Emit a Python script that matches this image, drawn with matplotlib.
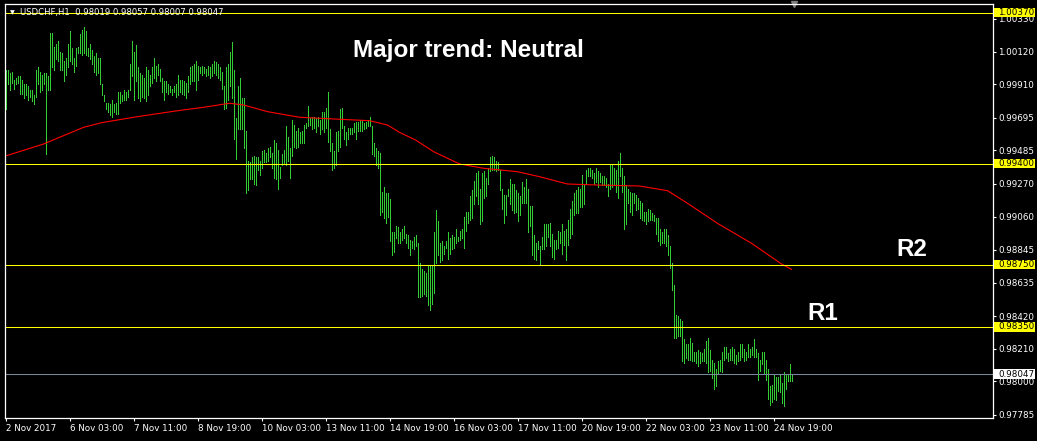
import matplotlib
matplotlib.use("Agg")
import matplotlib.pyplot as plt
from matplotlib.transforms import blended_transform_factory
from matplotlib.patches import Rectangle

# ---------------- data ----------------
symbol_header = "USDCHF,H1  0.98019 0.98057 0.98007 0.98047"
title_text = "Major trend: Neutral"

highs = [
    1.0000, 1.0000, 0.9998, 0.9999, 0.9994, 0.9995, 0.9996, 0.9996, 0.9994, 0.9991,
    0.9991, 0.9990, 0.9987, 0.9987, 0.9984, 1.0000, 1.0002, 0.9999, 0.9997, 0.9998,
    0.9998, 0.9996, 1.0024, 1.0024, 1.0015, 1.0017, 1.0019, 1.0012, 1.0011, 1.0006,
    1.0008, 1.0017, 1.0025, 1.0014, 1.0008, 1.0014, 1.0015, 1.0023, 1.0026, 1.0028,
    1.0025, 1.0014, 1.0017, 1.0013, 1.0009, 1.0011, 1.0008, 1.0008, 0.9991, 0.9984,
    0.9979, 0.9979, 0.9978, 0.9981, 0.9978, 0.9979, 0.9986, 0.9986, 0.9984, 0.9987,
    0.9986, 0.9987, 1.0004, 1.0019, 1.0012, 1.0016, 1.0002, 0.9998, 0.9997, 0.9995,
    1.0002, 1.0000, 0.9997, 1.0002, 1.0008, 1.0003, 1.0004, 1.0001, 0.9995, 0.9993,
    0.9993, 0.9991, 0.9990, 0.9988, 0.9990, 0.9991, 0.9997, 0.9994, 0.9994, 0.9993,
    0.9992, 0.9996, 1.0002, 1.0003, 1.0004, 1.0006, 1.0003, 1.0002, 1.0003, 1.0002,
    1.0001, 1.0003, 1.0002, 1.0004, 1.0006, 1.0005, 1.0004, 1.0002, 0.9999, 0.9990,
    1.0002, 1.0004, 1.0012, 1.0018, 1.0000, 0.9969, 0.9990, 0.9995, 0.9982, 0.9982,
    0.9961, 0.9942, 0.9941, 0.9944, 0.9945, 0.9944, 0.9944, 0.9942, 0.9948, 0.9949,
    0.9947, 0.9950, 0.9951, 0.9947, 0.9955, 0.9953, 0.9949, 0.9938, 0.9946, 0.9949,
    0.9964, 0.9957, 0.9950, 0.9968, 0.9965, 0.9961, 0.9963, 0.9960, 0.9961, 0.9965,
    0.9966, 0.9977, 0.9969, 0.9970, 0.9970, 0.9969, 0.9970, 0.9968, 0.9973, 0.9973,
    0.9976, 0.9986, 0.9962, 0.9953, 0.9948, 0.9960, 0.9961, 0.9975, 0.9976, 0.9964,
    0.9960, 0.9963, 0.9963, 0.9963, 0.9966, 0.9967, 0.9967, 0.9968, 0.9968, 0.9966,
    0.9967, 0.9968, 0.9970, 0.9964, 0.9953, 0.9950, 0.9948, 0.9947, 0.9922, 0.9925,
    0.9921, 0.9921, 0.9917, 0.9896, 0.9896, 0.9900, 0.9899, 0.9896,
    0.9898, 0.9900, 0.9895, 0.9894, 0.9891, 0.9890, 0.9893, 0.9894, 0.9889, 0.9876,
    0.9872, 0.9871, 0.9870, 0.9875, 0.9874, 0.9874, 0.9896, 0.9910, 0.9903, 0.9889,
    0.9890, 0.9887, 0.9890, 0.9896, 0.9892, 0.9894, 0.9893, 0.9898, 0.9893, 0.9897,
    0.9898, 0.9906, 0.9909, 0.9909, 0.9919, 0.9923, 0.9929, 0.9934, 0.9935, 0.9924,
    0.9934, 0.9935, 0.9931, 0.9937, 0.9944, 0.9945, 0.9944, 0.9942, 0.9941, 0.9936,
    0.9924, 0.9920, 0.9920, 0.9924, 0.9930, 0.9927, 0.9927, 0.9923, 0.9921, 0.9919,
    0.9928, 0.9925, 0.9930, 0.9924, 0.9913, 0.9913, 0.9894, 0.9889, 0.9890, 0.9887,
    0.9893, 0.9901, 0.9901, 0.9901, 0.9902, 0.9895, 0.9891, 0.9891, 0.9897, 0.9896,
    0.9901, 0.9897, 0.9898, 0.9904, 0.9911, 0.9916, 0.9921, 0.9923, 0.9925, 0.9924,
    0.9933, 0.9926, 0.9936, 0.9937, 0.9937, 0.9936, 0.9934, 0.9937, 0.9935, 0.9934,
    0.9932, 0.9932, 0.9931, 0.9927, 0.9939, 0.9939, 0.9937, 0.9936, 0.9942, 0.9947,
    0.9937, 0.9932, 0.9926, 0.9924, 0.9922, 0.9921, 0.9921, 0.9920, 0.9918, 0.9916,
    0.9915, 0.9909, 0.9909, 0.9911, 0.9910, 0.9908, 0.9907, 0.9905, 0.9905, 0.9898,
    0.9896, 0.9898, 0.9898, 0.9894, 0.9887, 0.9876, 0.9862, 0.9843, 0.9842, 0.9840,
    0.9839, 0.9827, 0.9824, 0.9824, 0.9828, 0.9825, 0.9819, 0.9819, 0.9820, 0.9819,
    0.9818, 0.9821, 0.9826, 0.9828, 0.9820, 0.9814, 0.9812, 0.9808, 0.9813, 0.9814,
    0.9819, 0.9822, 0.9822, 0.9818, 0.9821, 0.9822, 0.9821, 0.9817, 0.9819, 0.9824,
    0.9824, 0.9821, 0.9819, 0.9824, 0.9821, 0.9822, 0.9827, 0.9821, 0.9818, 0.9814,
    0.9819, 0.9819, 0.9814, 0.9808, 0.9797, 0.9798, 0.9804, 0.9803, 0.9803, 0.9805,
    0.9799, 0.9806, 0.9804, 0.9805, 0.9811, 0.9805,
]

lows = [
    0.9975, 0.9991, 0.9987, 0.9992, 0.9988, 0.9991, 0.9992, 0.9985, 0.9985, 0.9982,
    0.9984, 0.9981, 0.9983, 0.9980, 0.9978, 0.9983, 0.9991, 0.9986, 0.9987, 0.9991,
    0.9946, 0.9987, 0.9987, 1.0002, 1.0000, 1.0007, 1.0006, 1.0000, 1.0000, 0.9993,
    0.9997, 1.0002, 1.0006, 1.0004, 0.9999, 1.0003, 1.0011, 1.0011, 1.0010, 1.0011,
    1.0010, 1.0009, 1.0007, 1.0004, 0.9999, 0.9997, 0.9998, 0.9991, 0.9984, 0.9980,
    0.9975, 0.9973, 0.9971, 0.9970, 0.9973, 0.9972, 0.9972, 0.9979, 0.9980, 0.9981,
    0.9981, 0.9983, 0.9987, 0.9996, 0.9981, 0.9993, 0.9982, 0.9980, 0.9983, 0.9982,
    0.9980, 0.9984, 0.9990, 0.9992, 0.9995, 0.9993, 0.9997, 0.9993, 0.9986, 0.9981,
    0.9986, 0.9985, 0.9986, 0.9984, 0.9986, 0.9983, 0.9984, 0.9986, 0.9985, 0.9984,
    0.9982, 0.9986, 0.9991, 0.9993, 0.9993, 0.9987, 0.9994, 0.9998, 0.9997, 0.9998,
    0.9996, 0.9997, 0.9995, 0.9996, 0.9998, 0.9997, 0.9995, 0.9994, 0.9988, 0.9975,
    0.9976, 0.9981, 0.9990, 0.9982, 0.9956, 0.9943, 0.9962, 0.9962, 0.9962, 0.9950,
    0.9921, 0.9923, 0.9930, 0.9930, 0.9927, 0.9926, 0.9936, 0.9933, 0.9937, 0.9941,
    0.9941, 0.9942, 0.9944, 0.9937, 0.9931, 0.9930, 0.9924, 0.9931, 0.9939, 0.9940,
    0.9939, 0.9942, 0.9931, 0.9945, 0.9951, 0.9950, 0.9951, 0.9953, 0.9953, 0.9953,
    0.9963, 0.9964, 0.9965, 0.9962, 0.9963, 0.9960, 0.9964, 0.9959, 0.9962, 0.9960,
    0.9963, 0.9954, 0.9948, 0.9936, 0.9937, 0.9939, 0.9948, 0.9951, 0.9963, 0.9956,
    0.9952, 0.9956, 0.9959, 0.9959, 0.9960, 0.9956, 0.9961, 0.9961, 0.9961, 0.9962,
    0.9963, 0.9964, 0.9964, 0.9946, 0.9945, 0.9939, 0.9937, 0.9907, 0.9909, 0.9905,
    0.9902, 0.9906, 0.9890, 0.9881, 0.9883, 0.9892, 0.9889, 0.9889,
    0.9891, 0.9892, 0.9889, 0.9886, 0.9881, 0.9886, 0.9885, 0.9887, 0.9854, 0.9854,
    0.9855, 0.9856, 0.9855, 0.9849, 0.9846, 0.9850, 0.9857, 0.9876, 0.9881, 0.9877,
    0.9878, 0.9882, 0.9886, 0.9879, 0.9882, 0.9885, 0.9886, 0.9889, 0.9890, 0.9891,
    0.9892, 0.9886, 0.9897, 0.9902, 0.9904, 0.9905, 0.9914, 0.9919, 0.9914, 0.9901,
    0.9903, 0.9918, 0.9919, 0.9927, 0.9935, 0.9936, 0.9936, 0.9935, 0.9936, 0.9923,
    0.9911, 0.9902, 0.9907, 0.9919, 0.9914, 0.9910, 0.9908, 0.9909, 0.9903, 0.9907,
    0.9915, 0.9915, 0.9915, 0.9896, 0.9900, 0.9881, 0.9879, 0.9878, 0.9885, 0.9875,
    0.9885, 0.9885, 0.9887, 0.9893, 0.9887, 0.9880, 0.9879, 0.9885, 0.9886, 0.9889,
    0.9882, 0.9888, 0.9878, 0.9888, 0.9892, 0.9895, 0.9907, 0.9908, 0.9908, 0.9912,
    0.9912, 0.9914, 0.9927, 0.9932, 0.9932, 0.9931, 0.9927, 0.9928, 0.9925, 0.9928,
    0.9926, 0.9926, 0.9925, 0.9919, 0.9924, 0.9925, 0.9926, 0.9922, 0.9918, 0.9932,
    0.9922, 0.9898, 0.9901, 0.9915, 0.9909, 0.9907, 0.9915, 0.9910, 0.9911, 0.9905,
    0.9904, 0.9903, 0.9901, 0.9903, 0.9904, 0.9904, 0.9903, 0.9895, 0.9890, 0.9888,
    0.9889, 0.9889, 0.9887, 0.9881, 0.9873, 0.9859, 0.9828, 0.9828, 0.9829, 0.9829,
    0.9813, 0.9812, 0.9815, 0.9814, 0.9814, 0.9813, 0.9813, 0.9812, 0.9810, 0.9812,
    0.9813, 0.9813, 0.9812, 0.9806, 0.9807, 0.9802, 0.9795, 0.9797, 0.9805, 0.9807,
    0.9806, 0.9814, 0.9815, 0.9813, 0.9814, 0.9814, 0.9812, 0.9811, 0.9813, 0.9814,
    0.9816, 0.9813, 0.9814, 0.9816, 0.9816, 0.9817, 0.9816, 0.9816, 0.9801, 0.9807,
    0.9811, 0.9805, 0.9801, 0.9789, 0.9785, 0.9787, 0.9789, 0.9788, 0.9794, 0.9793,
    0.9786, 0.9784, 0.9795, 0.9800, 0.9800, 0.9800,
]

# moving average sampled at bar indices
ma_bars = [0, 19, 39, 48, 66, 86, 99, 112, 119, 131, 147, 164, 182, 191, 197,
           205, 214, 227, 239, 256, 267, 281, 297, 317, 331, 341, 356, 373, 388, 393]
ma_vals = [0.99449, 0.99526, 0.99633, 0.99663, 0.99702, 0.99740, 0.99762, 0.99788,
           0.99777, 0.99734, 0.99698, 0.99687, 0.99676, 0.99648, 0.99601, 0.99552,
           0.99477, 0.99398, 0.99370, 0.99348, 0.99316, 0.99269, 0.99262, 0.99256,
           0.99226, 0.99145, 0.99016, 0.98888, 0.98755, 0.98720]

level_prices = [1.00370, 0.99400, 0.98750, 0.98350]
bid_price = 0.98047
level_labels = ["1.00370", "0.99400", "0.98750", "0.98350"]
bid_label = "0.98047"

ytick_vals = [1.00330, 1.00120, 0.99910, 0.99695, 0.99485, 0.99270, 0.99060,
              0.98845, 0.98635, 0.98420, 0.98210, 0.98000, 0.97785]
ytick_labels = ["1.00330", "1.00120", "0.99910", "0.99695", "0.99485", "0.99270",
                "0.99060", "0.98845", "0.98635", "0.98420", "0.98210", "0.98000",
                "0.97785"]

xtick_bars = [0, 32, 64, 96, 128, 160, 192, 224, 256, 288, 320, 352, 384]
xtick_labels = ["2 Nov 2017", "6 Nov 03:00", "7 Nov 11:00", "8 Nov 19:00",
                "10 Nov 03:00", "13 Nov 11:00", "14 Nov 19:00", "16 Nov 03:00",
                "17 Nov 11:00", "20 Nov 19:00", "22 Nov 03:00", "23 Nov 11:00",
                "24 Nov 19:00"]

r_labels = ["R2", "R1"]
r_bar_pos = [453, 408.5]
r_prices = [0.98851, 0.98439]

# ---------------- style ----------------
W, H = 1037, 441
BAR_C = "#32CD32"
YEL = "#FFFF00"
BID_C = "#778899"
Y0, Y1 = 0.97768, 1.00426

fig = plt.figure(figsize=(W / 100, H / 100), dpi=100, facecolor="black")
ax = fig.add_axes([4.5 / W, 1 - 417.5 / H, 988 / W, 413.5 / H], facecolor="black")

x = list(range(len(highs)))
ax.vlines(x, lows, highs, colors=BAR_C, linewidth=0.6, antialiased=False)
ax.plot(ma_bars, ma_vals, color="#FF0000", linewidth=0.8)

for p in level_prices:
    ax.axhline(p, color=YEL, linewidth=0.75)
ax.axhline(bid_price, color=BID_C, linewidth=0.75)

ax.set_xlim(-0.5, 493.5)
ax.set_ylim(Y0, Y1)

for s in ax.spines.values():
    s.set_color("white")
    s.set_linewidth(0.9)

ax.yaxis.tick_right()
ax.set_yticks(ytick_vals)
ax.set_yticklabels(ytick_labels)
ax.set_xticks(xtick_bars)
ax.set_xticklabels(xtick_labels)
ax.tick_params(axis="both", colors="white", length=2.5, width=0.8,
               labelsize=6.3, direction="out")
ax.tick_params(axis="y", pad=1.5)
ax.tick_params(axis="x", pad=2.0)
for lab in ax.get_xticklabels():
    lab.set_horizontalalignment("left")

# highlighted price labels on right scale
tr = blended_transform_factory(fig.transFigure, ax.transData)
box_h = 9.5 * (Y1 - Y0) / 413.5
for p, t in zip(level_prices, level_labels):
    ax.add_patch(Rectangle((994 / W, p - box_h / 2), 41 / W, box_h, transform=tr,
                           facecolor=YEL, edgecolor="none", clip_on=False, zorder=5))
    ax.text(998 / W, p, t, transform=tr, fontsize=6.3, color="black",
            va="center", ha="left", zorder=6, clip_on=False)
ax.add_patch(Rectangle((994 / W, bid_price - box_h / 2), 41 / W, box_h, transform=tr,
                       facecolor="white", edgecolor="none", clip_on=False, zorder=5))
ax.text(998 / W, bid_price, bid_label, transform=tr, fontsize=6.3, color="black",
        va="center", ha="left", zorder=6, clip_on=False)

# header
fig.text(12 / W, 1 - 13 / H, "\u25BC", fontsize=4.5, color="white", va="center", ha="center")
fig.text(20 / W, 1 - 13 / H, symbol_header, fontsize=6.1, color="white", va="center", ha="left")

# annotations
fig.text(468 / W, 1 - 50 / H, title_text, fontsize=17.5, color="white",
         fontweight="bold", family="Liberation Sans", ha="center", va="center")
for lab, xb, pr in zip(r_labels, r_bar_pos, r_prices):
    ax.text(xb, pr, lab, fontsize=17.5, color="white", fontweight="bold",
            family="Liberation Sans", ha="center", va="center")

# shift marker
ax.plot([394], [1.0], marker="v", color="#808080", markersize=5,
        transform=blended_transform_factory(ax.transData, ax.transAxes), clip_on=False)

fig.savefig("out.png", dpi=100, facecolor="black")
